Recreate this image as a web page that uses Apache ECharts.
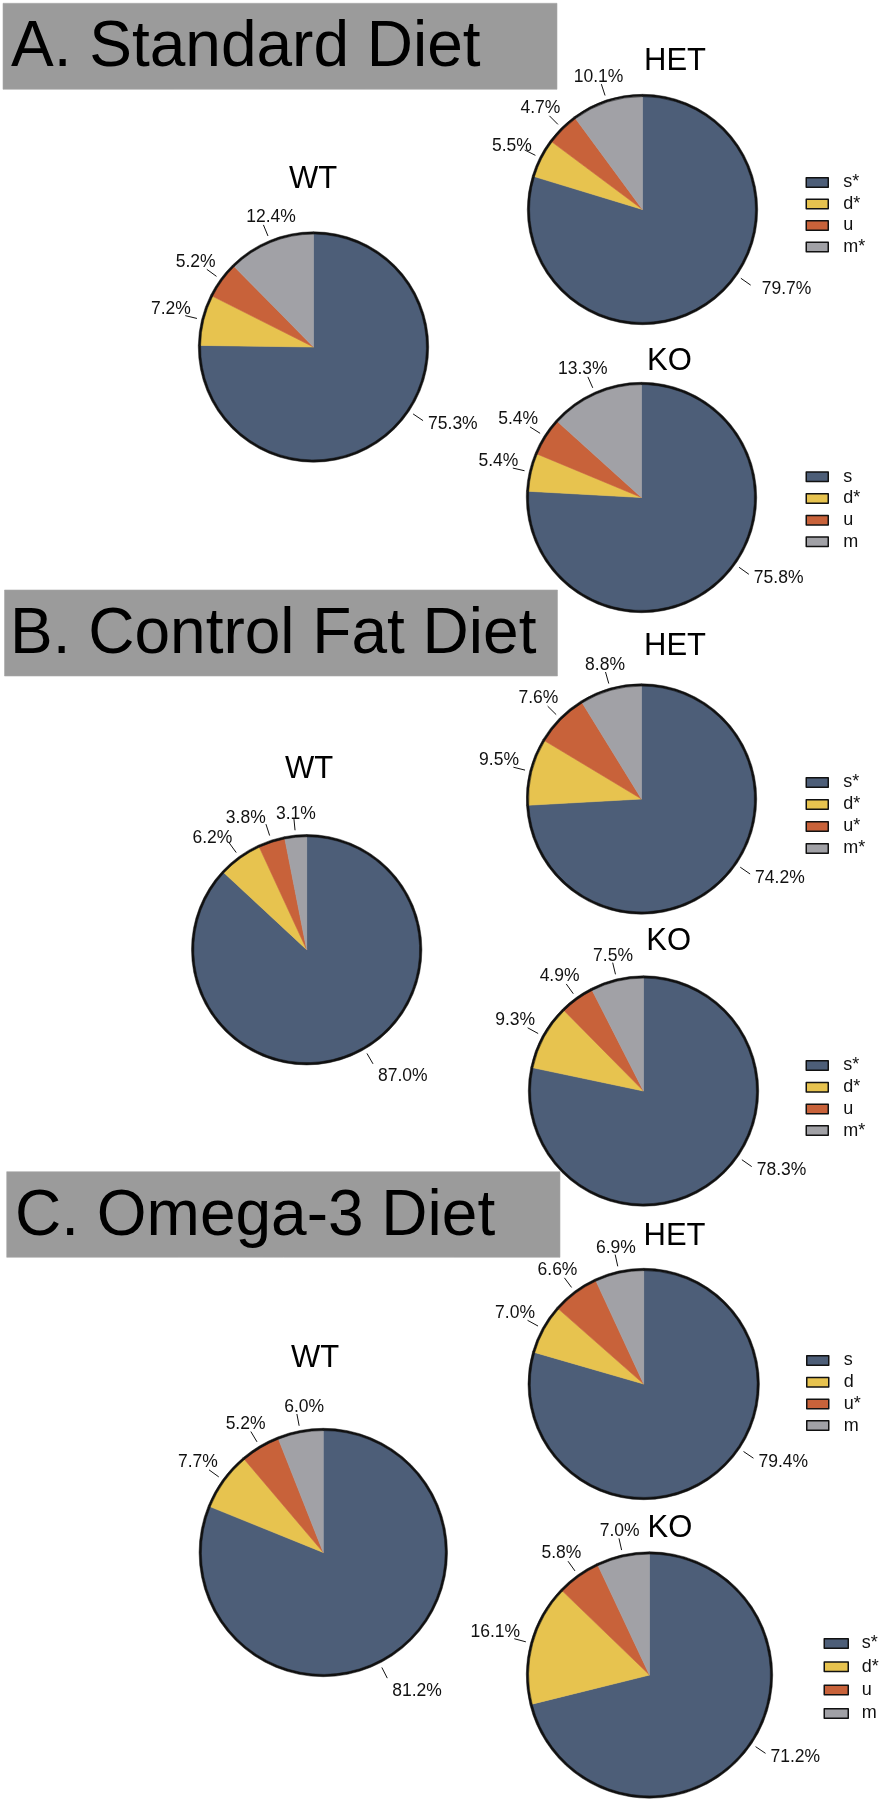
<!DOCTYPE html>
<html>
<head>
<meta charset="utf-8">
<script src="https://cdn.jsdelivr.net/npm/echarts@6/dist/echarts.min.js"></script>
<style>
html, body { margin: 0; padding: 0; background: #ffffff; }
#chart { width: 885px; height: 1800px; }
</style>
</head>
<body>
<div id="chart"></div>
<script>
// ---------------- data ----------------
const categories = ['s', 'd', 'u', 'm'];
const panelTitles = ['A. Standard Diet', 'B. Control Fat Diet', 'C. Omega-3 Diet'];
const genotypes = ['WT', 'HET', 'KO'];

// percentages in category order s, d, u, m
const A_WT  = [75.3, 7.2, 5.2, 12.4];
const A_HET = [79.7, 5.5, 4.7, 10.1];
const A_KO  = [75.8, 5.4, 5.4, 13.3];
const B_WT  = [87.0, 6.2, 3.8, 3.1];
const B_HET = [74.2, 9.5, 7.6, 8.8];
const B_KO  = [78.3, 9.3, 4.9, 7.5];
const C_WT  = [81.2, 7.7, 5.2, 6.0];
const C_HET = [79.4, 7.0, 6.6, 6.9];
const C_KO  = [71.2, 16.1, 5.8, 7.0];

// legend labels (significance marks) per genotype panel
const A_HET_legend = ['s*', 'd*', 'u', 'm*'];
const A_KO_legend  = ['s', 'd*', 'u', 'm'];
const B_HET_legend = ['s*', 'd*', 'u*', 'm*'];
const B_KO_legend  = ['s*', 'd*', 'u', 'm*'];
const C_HET_legend = ['s', 'd', 'u*', 'm'];
const C_KO_legend  = ['s*', 'd*', 'u', 'm'];

// ---------------- styling / layout ----------------
const FONT = '"Liberation Sans", Arial, Helvetica, sans-serif';
const sliceColors = ['#4d5e78', '#e7c34f', '#c8623a', '#a1a1a6'];
const boxColor = '#9b9b9b';

const charts = [
  { id: 'A_WT',  panel: 0, genotype: genotypes[0], values: A_WT,  names: categories,   legend: false },
  { id: 'A_HET', panel: 0, genotype: genotypes[1], values: A_HET, names: A_HET_legend, legend: true },
  { id: 'A_KO',  panel: 0, genotype: genotypes[2], values: A_KO,  names: A_KO_legend,  legend: true },
  { id: 'B_WT',  panel: 1, genotype: genotypes[0], values: B_WT,  names: categories,   legend: false },
  { id: 'B_HET', panel: 1, genotype: genotypes[1], values: B_HET, names: B_HET_legend, legend: true },
  { id: 'B_KO',  panel: 1, genotype: genotypes[2], values: B_KO,  names: B_KO_legend,  legend: true },
  { id: 'C_WT',  panel: 2, genotype: genotypes[0], values: C_WT,  names: categories,   legend: false },
  { id: 'C_HET', panel: 2, genotype: genotypes[1], values: C_HET, names: C_HET_legend, legend: true },
  { id: 'C_KO',  panel: 2, genotype: genotypes[2], values: C_KO,  names: C_KO_legend,  legend: true }
];

const layout = {
  A_WT:  { center: [313.5, 347],    r: 114,   title: [313, 179] },
  A_HET: { center: [642.5, 209.5],  r: 114,   title: [675, 61.6],    legend: [805.5, 173.5],  gap: 3.5, iw: 22, pad: 10 },
  A_KO:  { center: [641.5, 497.5],  r: 114,   title: [669.5, 361.5], legend: [805.5, 467.75], gap: 3.7, iw: 22, pad: 10 },
  B_WT:  { center: [306.7, 949.7],  r: 114,   title: [309, 769] },
  B_HET: { center: [641.5, 799],    r: 114,   title: [675, 646],     legend: [805.5, 773.5],  gap: 4,   iw: 22, pad: 10 },
  B_KO:  { center: [643.5, 1091],   r: 114,   title: [668.7, 941],   legend: [805.5, 1056.5], gap: 3.7, iw: 22, pad: 10 },
  C_WT:  { center: [323.3, 1552.5], r: 123,   title: [315, 1358] },
  C_HET: { center: [643.7, 1384],   r: 114.5, title: [674.5, 1236.4], legend: [806, 1351.5],  gap: 3.7, iw: 22, pad: 10 },
  C_KO:  { center: [649.5, 1675],   r: 122,   title: [670, 1528],    legend: [823.5, 1634.5], gap: 5.3, iw: 24, pad: 8.5 }
};

// label placement tweaks (degrees to swing the large-slice label, and pixel nudges)
const labelAngleShift = { A_WT: -11.5, A_HET: -18.5, A_KO: -11, B_WT: -6.6, B_HET: -8.8,
                          B_KO: -16, C_WT: 7, C_HET: -19, C_KO: -4 };
const labelNudge = {
  A_WT: [[0, 0], [0, 0], [0, 0], [12, 0]],
  A_HET: [[6, 0], [0, 4], [0, 0], [0, 0]],
  B_WT: [[0, 0], [-10, 3], [-19, 1], [-1, 2]],
  C_WT: [[0, 0], [0, 0], [0, 0], [6, 0]]
};

const panelBoxes = [
  { x: 3,   y: 3.3,    w: 554,   h: 86,   tx: 11, ty: 48.8 },
  { x: 4.5, y: 590,    w: 553,   h: 86,   tx: 10, ty: 635.3 },
  { x: 6.7, y: 1171.7, w: 553.3, h: 85.6, tx: 15, ty: 1217 }
];

function rotatePts(pts, c, deg) {
  const t = deg * Math.PI / 180, cs = Math.cos(t), sn = Math.sin(t);
  return pts.map(function (pt) {
    const dx = pt[0] - c[0], dy = pt[1] - c[1];
    return [c[0] + dx * cs - dy * sn, c[1] + dx * sn + dy * cs];
  });
}

function labelPlacer(id) {
  const nudge = labelNudge[id] || [];
  const L = layout[id];
  return function (p) {
    let pts = p.labelLinePoints;
    if (!pts || pts.length < 2) return {};
    if (p.dataIndex === 0 && labelAngleShift[id]) pts = rotatePts(pts, L.center, labelAngleShift[id]);
    const a = pts[0], e = pts[pts.length - 1];
    let ux = e[0] - a[0], uy = e[1] - a[1];
    const len = Math.hypot(ux, uy) || 1;
    ux /= len; uy /= len;
    const w = p.labelRect.width;
    const n = nudge[p.dataIndex] || [0, 0];
    let x, y;
    if (ux >= 0) {
      x = e[0] + 5 + (w / 2) * Math.min(1, ux * 3);
    } else {
      x = e[0] + ux * w / 2 + 5;
    }
    if (uy > 0) {
      y = e[1] + uy * 7 + 25 * Math.max(0, uy - 0.6);
    } else {
      y = e[1] + uy * 4 - 2 - 4 * Math.abs(ux);
    }
    return { x: x + n[0], y: y + n[1], align: 'center', verticalAlign: 'middle', labelLinePoints: pts };
  };
}

const series = [];
const legends = [];
const graphics = [];

panelBoxes.forEach(function (b, i) {
  graphics.push({ type: 'rect', silent: true, shape: { x: b.x, y: b.y, width: b.w, height: b.h },
    style: { fill: boxColor, stroke: '#a8a8a8', lineWidth: 0.6 } });
  graphics.push({ type: 'text', silent: true, x: b.tx, y: b.ty,
    style: { text: panelTitles[i], font: '64px ' + FONT, fill: '#000', align: 'left', verticalAlign: 'middle',
      textAlign: 'left', textVerticalAlign: 'middle' } });
});

charts.forEach(function (ch) {
  const L = layout[ch.id];
  // filled slices
  series.push({
    type: 'pie', center: L.center, radius: [0, L.r], startAngle: 90, clockwise: true,
    silent: true, animation: false, avoidLabelOverlap: false,
    label: { show: false }, labelLine: { show: false }, emphasis: { disabled: true },
    data: ch.values.map(function (v, i) {
      return { name: ch.names[i], value: v,
        itemStyle: { color: sliceColors[i], borderColor: sliceColors[i], borderWidth: 0.6 } };
    })
  });
  // black outline ring
  series.push({
    type: 'pie', center: L.center, radius: [L.r - 1.1, L.r + 1.2], startAngle: 90, clockwise: true,
    silent: true, animation: false, avoidLabelOverlap: false,
    label: { show: false }, labelLine: { show: false }, emphasis: { disabled: true },
    data: ch.values.map(function (v) {
      return { name: '', value: v, itemStyle: { color: '#111', borderColor: '#111', borderWidth: 0.5 } };
    })
  });
  // percentage labels with leader lines (transparent carrier ring just outside the pie)
  series.push({
    type: 'pie', center: L.center, radius: [L.r + 5, L.r + 6], startAngle: 90, clockwise: true,
    silent: true, animation: false, avoidLabelOverlap: false,
    emphasis: { disabled: true },
    itemStyle: { color: 'rgba(0,0,0,0)', borderWidth: 0 },
    label: {
      show: true, position: 'outside', color: '#111', fontSize: 17.5, fontFamily: FONT,
      formatter: function (p) { return p.value.toFixed(1) + '%'; }
    },
    labelLine: { show: true, length: 12, length2: 0, smooth: false,
      lineStyle: { color: '#111', width: 1 } },
    labelLayout: labelPlacer(ch.id),
    data: ch.values.map(function (v) { return { name: '', value: v }; })
  });
  // genotype title
  graphics.push({ type: 'text', silent: true, x: L.title[0], y: L.title[1],
    style: { text: ch.genotype, font: '31px ' + FONT, fill: '#000', align: 'center', verticalAlign: 'middle',
      textAlign: 'center', textVerticalAlign: 'middle' } });
  // legend
  if (ch.legend) {
    legends.push({
      orient: 'vertical', left: L.legend[0], top: L.legend[1], padding: 0,
      itemGap: L.gap, itemWidth: L.iw, itemHeight: 9.5, icon: 'rect', selectedMode: false,
      data: ch.names.slice(),
      itemStyle: { borderColor: '#111', borderWidth: 1.5 },
      textStyle: { fontSize: 18, color: '#111', fontFamily: FONT, lineHeight: 18, padding: [0, 0, 0, L.pad] }
    });
  }
});

const chart = echarts.init(document.getElementById('chart'), null, { renderer: 'canvas', width: 885, height: 1800 });
chart.setOption({
  backgroundColor: '#ffffff',
  animation: false,
  textStyle: { fontFamily: FONT },
  legend: legends,
  graphic: graphics,
  series: series
});
</script>
</body>
</html>
